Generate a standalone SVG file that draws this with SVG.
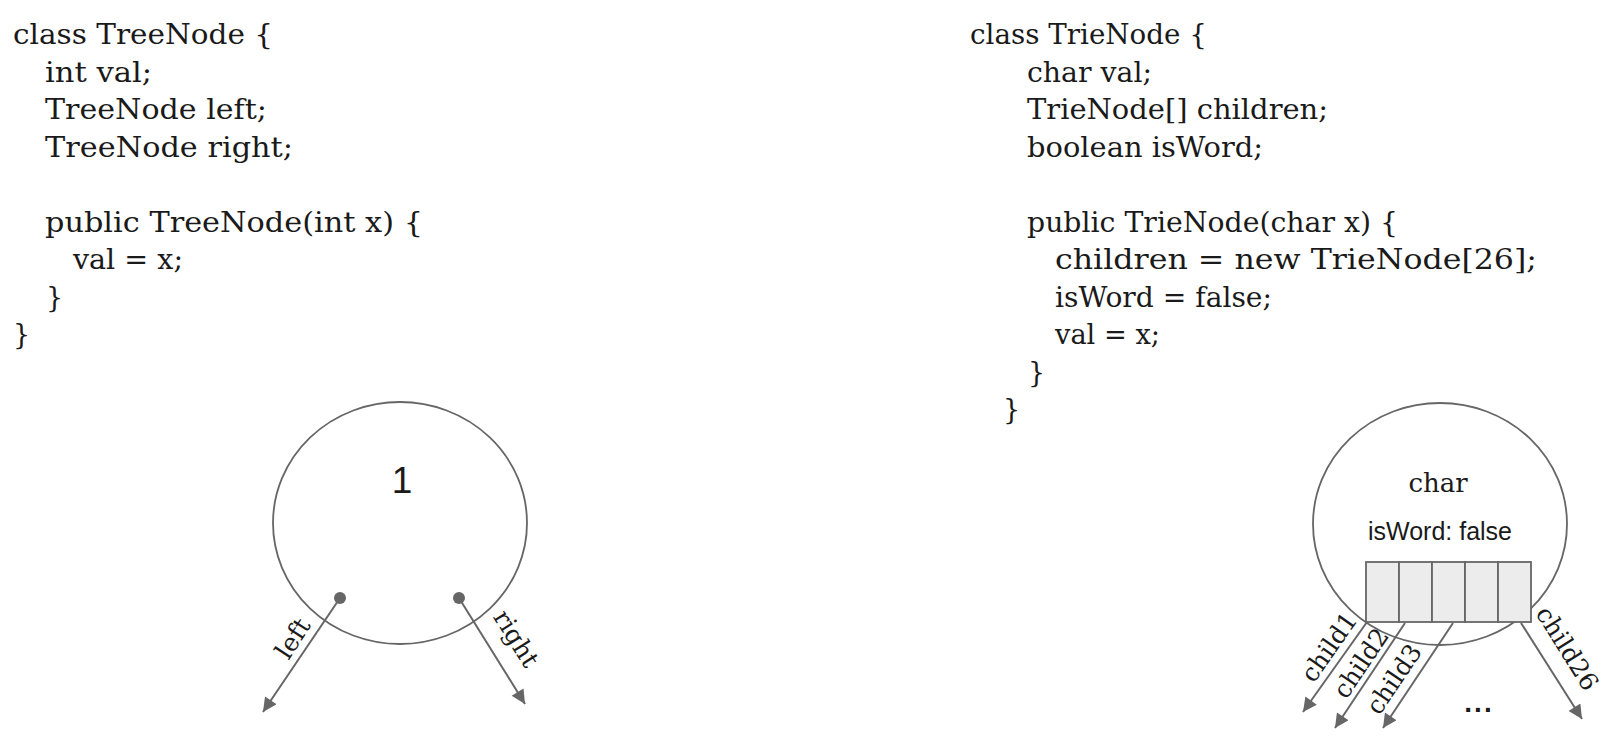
<svg xmlns="http://www.w3.org/2000/svg" width="1618" height="749" viewBox="0 0 1618 749">
  <style>
    .code { font-family: "DejaVu Serif", "Liberation Serif", serif; font-size: 27px; fill: #1a1a1a; }
    .lbl { font-family: "DejaVu Serif", "Liberation Serif", serif; font-size: 25px; fill: #1a1a1a; text-anchor: middle; }
    .node { fill: none; stroke: #666; stroke-width: 1.8; }
    .edge { stroke: #666; stroke-width: 2; fill: none; marker-end: url(#arrow); }
    .cell { fill: #ececec; stroke: #666; stroke-width: 1.8; }
    .sans { font-family: "Liberation Sans", Arial, sans-serif; fill: #1a1a1a; text-anchor: middle; }
  </style>
  <defs>
    <marker id="arrow" viewBox="0 0 10 10" refX="10" refY="5" markerWidth="18" markerHeight="14" markerUnits="userSpaceOnUse" orient="auto">
      <path d="M0,0 L10,5 L0,10 z" fill="#666"/>
    </marker>
  </defs>
  <rect width="1618" height="749" fill="#ffffff"/>

  <g id="treenode-code">
    <text class="code" x="13" y="44" textLength="260" lengthAdjust="spacingAndGlyphs">class TreeNode {</text>
    <text class="code" x="45" y="82" textLength="107" lengthAdjust="spacingAndGlyphs">int val;</text>
    <text class="code" x="45" y="119" textLength="222" lengthAdjust="spacingAndGlyphs">TreeNode left;</text>
    <text class="code" x="45" y="157" textLength="248" lengthAdjust="spacingAndGlyphs">TreeNode right;</text>
    <text class="code" x="45" y="232" textLength="378" lengthAdjust="spacingAndGlyphs">public TreeNode(int x) {</text>
    <text class="code" x="73" y="269" textLength="110" lengthAdjust="spacingAndGlyphs">val = x;</text>
    <text class="code" x="46" y="307">}</text>
    <text class="code" x="13" y="344">}</text>
  </g>

  <g id="trienode-code">
    <text class="code" x="970" y="44" textLength="237" lengthAdjust="spacingAndGlyphs">class TrieNode {</text>
    <text class="code" x="1027" y="82" textLength="125" lengthAdjust="spacingAndGlyphs">char val;</text>
    <text class="code" x="1027" y="119" textLength="301" lengthAdjust="spacingAndGlyphs">TrieNode[] children;</text>
    <text class="code" x="1027" y="157" textLength="236" lengthAdjust="spacingAndGlyphs">boolean isWord;</text>
    <text class="code" x="1027" y="232" textLength="371" lengthAdjust="spacingAndGlyphs">public TrieNode(char x) {</text>
    <text class="code" x="1055" y="269" textLength="482" lengthAdjust="spacingAndGlyphs">children = new TrieNode[26];</text>
    <text class="code" x="1055" y="307" textLength="217" lengthAdjust="spacingAndGlyphs">isWord = false;</text>
    <text class="code" x="1055" y="344" textLength="105" lengthAdjust="spacingAndGlyphs">val = x;</text>
    <text class="code" x="1028" y="382">}</text>
    <text class="code" x="1003" y="419">}</text>
  </g>

  <g id="tree-node">
    <ellipse class="node" cx="400" cy="523" rx="127" ry="121"/>
    <text class="sans" x="402" y="493" font-size="37">1</text>
    <circle cx="340" cy="598" r="6" fill="#666"/>
    <circle cx="459" cy="598" r="6" fill="#666"/>
  </g>

  <g id="trie-node">
    <ellipse class="node" cx="1440" cy="524" rx="127" ry="121"/>
    <text x="1438" y="492" font-family="DejaVu Serif, Liberation Serif, serif" font-size="26" fill="#1a1a1a" text-anchor="middle">char</text>
    <text class="sans" x="1440" y="540" font-size="25">isWord: false</text>
    <rect class="cell" x="1366" y="562" width="33" height="60"/>
    <rect class="cell" x="1399" y="562" width="33" height="60"/>
    <rect class="cell" x="1432" y="562" width="33" height="60"/>
    <rect class="cell" x="1465" y="562" width="33" height="60"/>
    <rect class="cell" x="1498" y="562" width="33" height="60"/>
  </g>

  <g id="connectors">
    <line class="edge" x1="340" y1="598" x2="263" y2="712"/>
    <line class="edge" x1="459" y1="598" x2="525" y2="704"/>
    <line class="edge" x1="1367" y1="622" x2="1303" y2="712"/>
    <line class="edge" x1="1405" y1="623" x2="1335" y2="728"/>
    <line class="edge" x1="1453" y1="623" x2="1383" y2="728"/>
    <line class="edge" x1="1521" y1="623" x2="1582" y2="719"/>
    <text class="lbl" transform="translate(300,643) rotate(-57)">left</text>
    <text class="lbl" transform="translate(509,643) rotate(58)">right</text>
    <text class="lbl" transform="translate(1336,652) rotate(-55)">child1</text>
    <text class="lbl" transform="translate(1368,668) rotate(-56)">child2</text>
    <text class="lbl" transform="translate(1401,684) rotate(-56)">child3</text>
    <text class="lbl" transform="translate(1560,653) rotate(58)">child26</text>
    <text class="sans" x="1479" y="712" font-size="28" font-weight="bold" letter-spacing="2">...</text>
  </g>
</svg>
